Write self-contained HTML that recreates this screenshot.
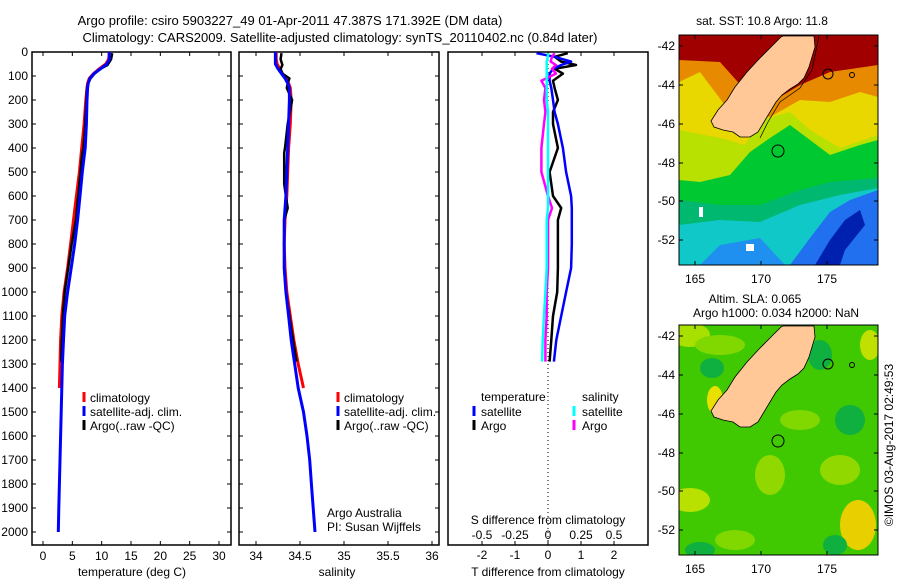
<!DOCTYPE html>
<html><head><meta charset="utf-8">
<style>
html,body{margin:0;padding:0;background:#fff;}
svg{display:block;font-family:"Liberation Sans",sans-serif;}
text{fill:#000;font-size:12px;}
</style></head>
<body>
<svg id="fig" width="900" height="580" viewBox="0 0 900 580" xmlns="http://www.w3.org/2000/svg">
<rect width="900" height="580" fill="#fff"/>
<text x="290" y="25" text-anchor="middle" style="font-size:13px">Argo profile: csiro 5903227_49 01-Apr-2011 47.387S 171.392E (DM data)</text>
<text x="340" y="42" text-anchor="middle" style="font-size:13px">Climatology: CARS2009. Satellite-adjusted climatology: synTS_20110402.nc (0.84d later)</text>
<g id="charts"></g>
<g id="maps"></g>
<text transform="translate(893,445) rotate(-90)" text-anchor="middle">©IMOS 03-Aug-2017 02:49:53</text>
</svg>
<script>
// ---------- data ----------
const depthArgo = [5,30,54,70,90,110,130,150,200,300,400,420,500,550,600,650,700,800,900,1000,1100,1200,1290];
const tempArgo  = [11.8,11.6,11.0,9.8,8.8,8.1,7.7,7.5,7.4,7.2,6.9,6.7,6.4,6.2,6.0,5.8,5.6,4.9,4.3,3.7,3.4,3.2,3.1];
const salArgo   = [34.29,34.28,34.30,34.28,34.30,34.38,34.36,34.35,34.41,34.36,34.33,34.32,34.32,34.32,34.34,34.36,34.32,34.32,34.32,34.34,34.38,34.42,34.46];
const depthClim = [0,30,50,70,90,110,130,150,200,300,400,500,600,700,800,900,1000,1100,1200,1300,1400];
const tempClim  = [11.3,11.2,10.7,9.6,8.6,7.9,7.6,7.5,7.3,7.0,6.6,6.2,5.7,5.2,4.7,4.2,3.6,3.2,3.0,2.9,2.8];
const salClim   = [34.23,34.23,34.24,34.27,34.30,34.34,34.37,34.39,34.40,34.39,34.37,34.36,34.35,34.33,34.32,34.33,34.35,34.39,34.43,34.48,34.54];
const depthSat  = [0,30,50,70,90,110,130,150,200,300,400,500,600,700,800,900,1000,1100,1200,1300,1400,1500,1600,1700,1800,1900,2000];
const tempSat   = [11.3,11.3,10.9,9.8,8.7,8.0,7.7,7.6,7.5,7.4,7.2,6.7,6.3,5.9,5.4,4.8,4.2,3.7,3.5,3.3,3.2,3.1,3.0,2.9,2.8,2.7,2.6];
const salSat    = [34.22,34.22,34.22,34.25,34.29,34.33,34.36,34.38,34.38,34.37,34.36,34.35,34.34,34.32,34.32,34.32,34.34,34.37,34.40,34.44,34.48,34.54,34.58,34.61,34.63,34.65,34.67];
const depthDiff = [5,20,40,54,70,90,120,150,200,250,300,400,500,600,650,700,800,900,1000,1100,1200,1290];
const tDiffSat  = [-0.35,0.2,0.7,0.4,0.15,0.05,0.05,0.1,0.15,0.2,0.3,0.45,0.55,0.7,0.72,0.72,0.72,0.7,0.55,0.4,0.25,0.18];
const tDiffArgo = [0.6,0.2,0.4,0.85,0.2,0.45,0.15,0.2,0.3,0.15,0.15,0.3,0.05,0.15,0.4,0.3,0.3,0.3,0.28,0.15,0.1,0.05];
const sDiffSat  = [0.0,0.0,-0.01,-0.01,-0.01,-0.01,-0.01,-0.01,-0.01,0.0,0.0,0.0,0.0,0.0,0.0,-0.01,-0.01,-0.01,-0.02,-0.03,-0.04,-0.045];
const sDiffArgo = [0.05,0.03,0.02,0.06,0.03,0.06,-0.05,-0.02,-0.03,-0.02,-0.03,-0.05,-0.05,0.0,0.03,0.0,0.0,0.0,-0.01,-0.01,-0.02,-0.02];
const depthTicks = [0,100,200,300,400,500,600,700,800,900,1000,1100,1200,1300,1400,1500,1600,1700,1800,1900,2000];
const tempTicks = [0,5,10,15,20,25,30];
const salTicks = [34,34.5,35,35.5,36];
const salTickLabels = ["34","34.5","35","35.5","36"];
const tdTicks = [-2,-1,0,1,2];
const sdTicks = [-0.5,-0.25,0,0.25,0.5];
const sdTickLabels = ["-0.5","-0.25","0","0.25","0.5"];

const NS = "http://www.w3.org/2000/svg";
const charts = document.getElementById('charts');
function mk(tag, attrs, parent){const e=document.createElementNS(NS,tag);for(const k in attrs)e.setAttribute(k,attrs[k]);(parent||charts).appendChild(e);return e;}
const TOP=52, BOT=545;
const yScale = d => TOP + d*0.24;
function linScale(v0,p0,v1,p1){return v=>p0+(v-v0)*(p1-p0)/(v1-v0);}
const xT = linScale(0,43,30,219);
const xS = linScale(34,256,36,432);
const xTD = linScale(0,548,2,614);
const xSD = linScale(0,548,0.5,614);

function frame(x0,x1,name){
  const r=mk('rect',{x:x0,y:TOP,width:x1-x0,height:BOT-TOP,fill:'none',stroke:'#000','stroke-width':1.5});
  
  
}
function series(xs,ds,scale,color,w,name){
  let pts=ds.map((d,i)=>scale(xs[i]).toFixed(1)+','+yScale(d).toFixed(1)).join(' ');
  const p=mk('polyline',{points:pts,fill:'none',stroke:color,'stroke-width':w,'stroke-linejoin':'round'});
  
  
}
function txt(x,y,s,anchor,name,size){
  const t=mk('text',{x:x,y:y,'text-anchor':anchor||'start'});
  if(size)t.style.fontSize=size+'px';
  t.textContent=s;
  
  
  return t;
}
function xTicks(vals,labels,scale,x0,x1,labY,name){
  vals.forEach((v,i)=>{
    const x=scale(v);
    mk('line',{x1:x,x2:x,y1:BOT,y2:BOT-4,stroke:'#000'});
    mk('line',{x1:x,x2:x,y1:TOP,y2:TOP+4,stroke:'#000'});
    if(labY) txt(x,labY,labels[i],'middle',name);
  });
}
function yTicks(x0,x1,labels){
  depthTicks.forEach(d=>{
    const y=yScale(d);
    mk('line',{x1:x0,x2:x0+4,y1:y,y2:y,stroke:'#000'});
    mk('line',{x1:x1,x2:x1-4,y1:y,y2:y,stroke:'#000'});
    if(labels) txt(28,y+4,String(d),'end','depth-tick-label');
  });
}
function legendMark(x,y,color,name){
  const l=mk('line',{x1:x,x2:x,y1:y-9,y2:y+1,stroke:color,'stroke-width':3});
  
  
}

// panel 1: temperature
frame(32,231,'temperature-panel');
yTicks(32,231,true);
xTicks(tempTicks,tempTicks.map(String),xT,32,231,560,'temperature-tick-label');
series(tempClim,depthClim,xT,'#ff0000',3,'temperature-climatology-line');
series(tempArgo,depthArgo,xT,'#000000',2.5,'temperature-argo-line');
series(tempSat,depthSat,xT,'#0000ff',3,'temperature-satellite-line');
txt(132,576,'temperature (deg C)','middle','temperature-axis-title');
legendMark(84,401,'#ff0000','legend-climatology-mark');
txt(90,402,'climatology','start','legend-climatology');
legendMark(84,415,'#0000ff','legend-satellite-mark');
txt(90,416,'satellite-adj. clim.','start','legend-satellite-adj');
legendMark(84,429,'#000000','legend-argo-mark');
txt(90,430,'Argo(..raw -QC)','start','legend-argo');

// panel 2: salinity
frame(239,439,'salinity-panel');
yTicks(239,439,false);
xTicks(salTicks,salTickLabels,xS,239,439,560,'salinity-tick-label');
series(salClim,depthClim,xS,'#ff0000',3,'salinity-climatology-line');
series(salArgo,depthArgo,xS,'#000000',2.5,'salinity-argo-line');
series(salSat,depthSat,xS,'#0000ff',3,'salinity-satellite-line');
txt(337,576,'salinity','middle','salinity-axis-title');
legendMark(338,401,'#ff0000','legend-climatology-mark-2');
txt(344,402,'climatology','start','legend-climatology-2');
legendMark(338,415,'#0000ff','legend-satellite-mark-2');
txt(344,416,'satellite-adj. clim.','start','legend-satellite-adj-2');
legendMark(338,429,'#000000','legend-argo-mark-2');
txt(344,430,'Argo(..raw -QC)','start','legend-argo-2');
txt(327,517,'Argo Australia','start','credit-argo-australia');
txt(327,531,'PI: Susan Wijffels','start','credit-pi');

// panel 3: differences
frame(448,648,'difference-panel');
tdTicks.forEach(v=>{const x=xTD(v);mk('line',{x1:x,x2:x,y1:TOP,y2:TOP+4,stroke:'#000'});mk('line',{x1:x,x2:x,y1:BOT,y2:BOT-4,stroke:'#000'});txt(x,559,String(v),'middle','t-diff-tick-label');});
sdTicks.forEach((v,i)=>{txt(xSD(v),539,sdTickLabels[i],'middle','s-diff-tick-label');});
mk('line',{x1:548,x2:548,y1:TOP,y2:BOT,stroke:'#000','stroke-dasharray':'1,3'});
series(tDiffArgo,depthDiff,xTD,'#000000',2.5,'t-diff-argo-line');
series(tDiffSat,depthDiff,xTD,'#0000ff',2.5,'t-diff-satellite-line');
series(sDiffArgo,depthDiff,xSD,'#ff00ff',2.5,'s-diff-argo-line');
series(sDiffSat,depthDiff,xSD,'#00ffff',2.5,'s-diff-satellite-line');
txt(481,401,'temperature','start','legend-temperature-header');
legendMark(474,415,'#0000ff','legend-t-satellite-mark');
txt(481,416,'satellite','start','legend-t-satellite');
legendMark(474,429,'#000000','legend-t-argo-mark');
txt(481,430,'Argo','start','legend-t-argo');
txt(582,401,'salinity','start','legend-salinity-header');
legendMark(574,415,'#00ffff','legend-s-satellite-mark');
txt(582,416,'satellite','start','legend-s-satellite');
legendMark(574,429,'#ff00ff','legend-s-argo-mark');
txt(582,430,'Argo','start','legend-s-argo');
txt(548,524,'S difference from climatology','middle','s-diff-axis-title');
txt(548,576,'T difference from climatology','middle','t-diff-axis-title');

// ---------- maps ----------
const maps=document.getElementById('maps');
function m(tag,attrs,parent){const e=document.createElementNS(NS,tag);for(const k in attrs)e.setAttribute(k,attrs[k]);(parent||maps).appendChild(e);return e;}
const land=[[783,36],[814,36],[815,47],[809,67],[804,78],[798,84],[790,89],[782,95],[776,102],[770,112],[764,122],[758,132],[750,137],[740,137],[733,132],[723,130],[714,127],[711,121],[718,110],[727,100],[735,87],[747,72],[760,58],[771,47],[781,37]];
function poly(pts,dy){return pts.map(p=>p[0]+','+(p[1]+dy)).join(' ');}
const lonTicks=[165,170,175], lonX=[695,761,827];
const latTicks=[-42,-44,-46,-48,-50,-52], latY=[46,85,124,163,201,240];

function mapFrame(dy,name,layers){
  const g=m('g',{});
  
  
  const cp=m('clipPath',{id:'clip'+dy},g);
  m('rect',{x:679,y:35+dy,width:199,height:230},cp);
  const inner=m('g',{'clip-path':'url(#clip'+dy+')'},g);
  layers(inner);
  m('polyline',{points:'819,36 812,70 800,88 780,102 768,122 760,138',fill:'none',stroke:'#000','stroke-width':0.7},inner);
  m('polygon',{points:poly(land,dy),fill:'#ffc896',stroke:'#000','stroke-width':0.8},inner);
  m('circle',{cx:778,cy:151+dy,r:6,fill:'none',stroke:'#000'},inner);
  m('circle',{cx:828,cy:74+dy,r:5,fill:'none',stroke:'#000'},inner);
  m('circle',{cx:852,cy:75+dy,r:2.5,fill:'none',stroke:'#000'},inner);
  m('rect',{x:679,y:35+dy,width:199,height:230,fill:'none',stroke:'#000','stroke-width':1},g);
  lonTicks.forEach((v,i)=>{
    m('line',{x1:lonX[i],x2:lonX[i],y1:265+dy,y2:261+dy,stroke:'#000'},g);
    m('line',{x1:lonX[i],x2:lonX[i],y1:35+dy,y2:39+dy,stroke:'#000'},g);
    const t=m('text',{x:lonX[i],y:283+dy,'text-anchor':'middle'},g);t.textContent=String(v);
    
    
  });
  latTicks.forEach((v,i)=>{
    m('line',{x1:679,x2:683,y1:latY[i]+dy,y2:latY[i]+dy,stroke:'#000'},g);
    m('line',{x1:878,x2:874,y1:latY[i]+dy,y2:latY[i]+dy,stroke:'#000'},g);
    const t=m('text',{x:675,y:latY[i]+4+dy,'text-anchor':'end'},g);t.textContent=String(v);
    
    
  });
}
mapFrame(0,'sst-map',g=>{
  m('rect',{x:679,y:35,width:199,height:230,fill:'#a00000'},g);
  m('polygon',{points:'679,60 720,62 745,90 775,100 800,85 830,72 878,65 878,265 679,265',fill:'#e88a00'},g);
  m('polygon',{points:'679,82 700,72 730,112 770,117 800,100 830,102 860,92 878,97 878,265 679,265',fill:'#e8d800'},g);
  m('polygon',{points:'679,130 720,138 745,145 760,120 790,112 810,130 840,148 878,135 878,265 679,265',fill:'#b8e000'},g);
  m('polygon',{points:'679,180 700,182 730,175 750,152 770,138 790,125 810,140 830,155 860,145 878,140 878,265 679,265',fill:'#00c830'},g);
  m('polygon',{points:'679,200 720,205 760,205 800,190 830,182 878,178 878,265 679,265',fill:'#00b870'},g);
  m('polygon',{points:'679,225 720,220 760,222 800,205 840,195 878,188 878,265 679,265',fill:'#10c8c8'},g);
  m('polygon',{points:'700,265 720,245 760,238 785,265',fill:'#2090f0'},g);
  m('polygon',{points:'790,265 810,238 830,212 850,200 878,190 878,265',fill:'#2070f0'},g);
  m('polygon',{points:'815,265 830,240 845,220 860,210 865,225 845,250 840,265',fill:'#0020b0'},g);
  m('rect',{x:699,y:207,width:4,height:10,fill:'#fff'},g);
  m('rect',{x:746,y:244,width:8,height:7,fill:'#fff'},g);
});
mapFrame(290,'sla-map',g=>{
  m('rect',{x:679,y:325,width:199,height:230,fill:'#40c800'},g);
  const blobs=[[690,335,20,12,'#a8e000'],[720,345,25,10,'#80d800'],[715,400,8,14,'#e8e000'],[690,500,20,12,'#b8e000'],[858,525,18,25,'#e8d000'],[870,345,10,15,'#c0e000'],[800,420,20,10,'#80d800'],[770,475,15,20,'#90d800'],[840,470,20,15,'#90d800'],[735,540,20,10,'#80d800']];
  blobs.forEach(b=>m('ellipse',{cx:b[0],cy:b[1],rx:b[2],ry:b[3],fill:b[4]},g));
  const dark=[[712,368,12,10],[820,355,12,15],[850,420,15,15],[700,550,15,8],[835,545,12,10]];
  dark.forEach(b=>m('ellipse',{cx:b[0],cy:b[1],rx:b[2],ry:b[3],fill:'#10b040'},g));
});
const t1=m('text',{x:762,y:25,'text-anchor':'middle'});t1.textContent='sat. SST: 10.8  Argo: 11.8';


const t2=m('text',{x:755,y:303,'text-anchor':'middle'});t2.textContent='Altim. SLA: 0.065';


const t3=m('text',{x:776,y:317,'text-anchor':'middle'});t3.textContent='Argo h1000: 0.034 h2000: NaN';


</script>
</body></html>
